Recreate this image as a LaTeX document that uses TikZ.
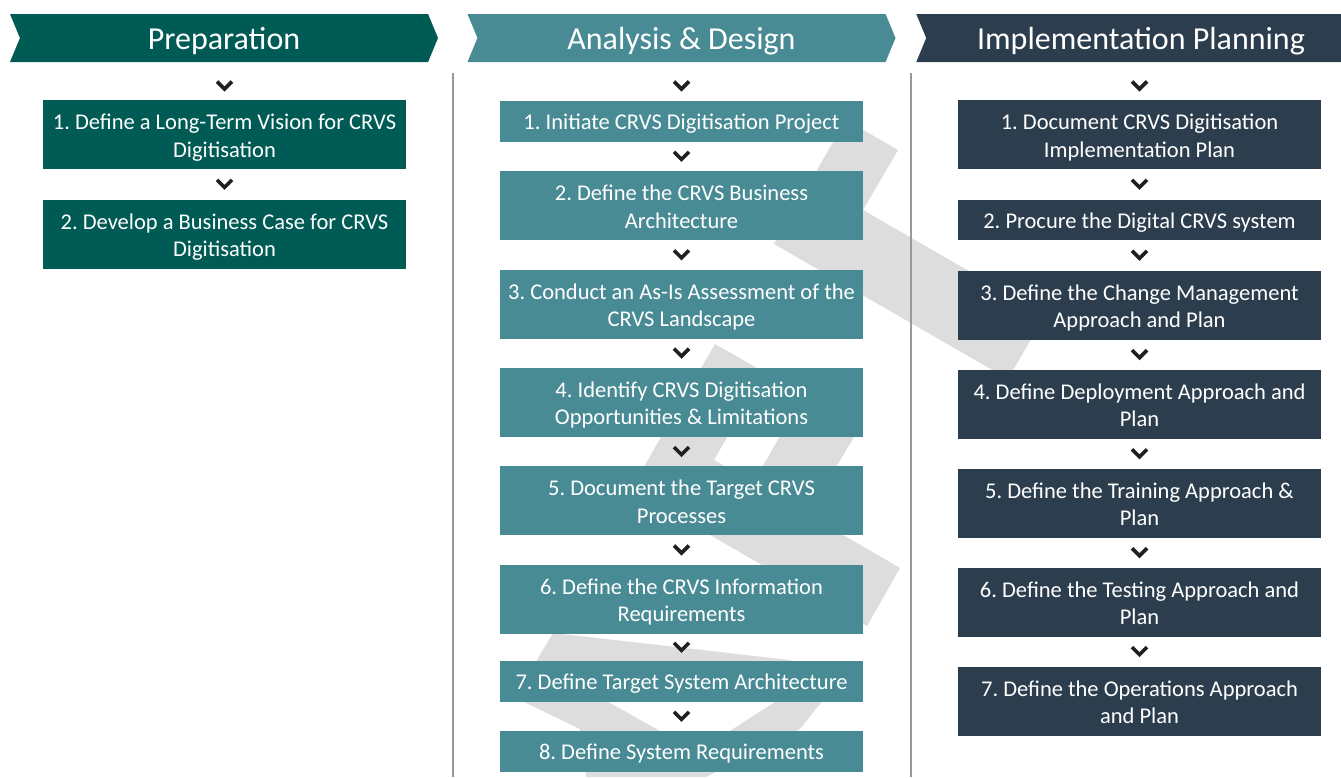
\documentclass[tikz,border=0pt]{standalone}
\usepackage{fontspec}
\setmainfont{Carlito}
\usetikzlibrary{positioning}
\usetikzlibrary{calc}
\usetikzlibrary{shapes.symbols}
\definecolor{prepgreen}{RGB}{0,91,85}
\definecolor{designteal}{RGB}{73,139,148}
\definecolor{planslate}{RGB}{44,62,78}
\definecolor{stripegray}{RGB}{221,221,221}
\definecolor{arrowblack}{RGB}{35,31,32}
\tikzset{
	phase/.style={signal, signal to=east, signal from=west, signal pointer angle=135, draw=none, minimum height=48pt, minimum width=428pt, inner sep=0pt, text=white, text height=23pt, text depth=0pt, font=\fontsize{32}{36}\selectfont},
	stepbox/.style={rectangle, draw=none, minimum width=363pt, minimum height=69pt, inner sep=0pt, align=center, text=white, text height=45pt, text depth=0pt, font=\fontsize{22.5}{27.5}\selectfont},
	short/.style={minimum height=40.5pt, text height=17pt},
	pics/chev/.style={code={\draw[arrowblack, line width=3.6pt, miter limit=10] (-7.5,-4.5) -- (0,3) -- (7.5,-4.5);}},
}

\begin{document}
\frenchspacing
\begin{tikzpicture}[x=1pt, y=-1pt]
	\useasboundingbox (0,0) rectangle (1341,777);
	\clip (0,0) rectangle (1341,777);
	\fill[white] (0,0) rectangle (1341,777);

	% grey stripes behind the middle column
	\fill[stripegray] (846,120) -- (898,150) -- (863,210) -- (1045,315) -- (1008,379) -- (774,244) -- cycle;
	\fill[stripegray] (715,344) -- (764,372) -- (714,460) -- (900,568) -- (867,626) -- (631,489) -- cycle;
	\fill[stripegray] (802,398) -- (858,430) -- (808,515) -- (753,483) -- cycle;
	\fill[stripegray, even odd rule] (553,633) -- (790,660) -- (845,690) -- (823,700) -- (800,729) -- (706,777) -- (586,777) -- (580,729) -- (520,700) -- (515,697) -- cycle
		(596,695) -- (786,695) -- (697,752) -- cycle;

	% dividers
	\draw[gray!80, line width=1.6pt] (453,73) -- (453,777);
	\draw[gray!80, line width=1.6pt] (911,73) -- (911,777);

	% phase headers
	\node[phase, fill=prepgreen] (prep) at (224,38) {Preparation};
	\node[phase, fill=designteal] (design) at (681.5,38) {Analysis \& Design};
	\node[phase, fill=planslate, minimum width=440pt, anchor=west] (plan) at (926,38) {};
	\node[text=white, text height=23pt, text depth=0pt, font=\fontsize{32}{36}\selectfont] (plantitle) at (1141,38) {Implementation Planning};

	%%%% Preparation
	\node[stepbox, fill=prepgreen, anchor=north] (p1) at (224.5,100) {1. Define a Long-Term Vision for CRVS\\Digitisation};
	\node[stepbox, fill=prepgreen, below=30pt of p1] (p2) {2. Develop a Business Case for CRVS\\Digitisation};

	\pic at ($(p1.north)+(0,-14)$) {chev};
	\pic at ($(p1.south)!0.5!(p2.north)$) {chev};

	%%%% Analysis & Design
	\node[stepbox, short, fill=designteal, anchor=north] (a1) at (681.5,101) {1. Initiate CRVS Digitisation Project};
	\node[stepbox, fill=designteal, below=29pt of a1] (a2) {2. Define the CRVS Business\\Architecture};
	\node[stepbox, fill=designteal, below=29pt of a2] (a3) {3. Conduct an As-Is Assessment of the\\CRVS Landscape};
	\node[stepbox, fill=designteal, below=29pt of a3] (a4) {4. Identify CRVS Digitisation\\Opportunities \& Limitations};
	\node[stepbox, fill=designteal, below=29pt of a4] (a5) {5. Document the Target CRVS\\Processes};
	\node[stepbox, fill=designteal, below=29pt of a5] (a6) {6. Define the CRVS Information\\Requirements};
	\node[stepbox, short, fill=designteal, below=27pt of a6] (a7) {7. Define Target System Architecture};
	\node[stepbox, short, fill=designteal, below=29pt of a7] (a8) {8. Define System Requirements};

	\pic at ($(a1.north)+(0,-15)$) {chev};
	\foreach \i/\j in {1/2,2/3,3/4,4/5,5/6,6/7,7/8}
		\pic at ($(a\i.south)!0.5!(a\j.north)$) {chev};

	%%%% Implementation Planning
	\node[stepbox, fill=planslate, anchor=north] (m1) at (1139.5,100) {1. Document CRVS Digitisation\\Implementation Plan};
	\node[stepbox, short, fill=planslate, below=30pt of m1] (m2) {2. Procure the Digital CRVS system};
	\node[stepbox, fill=planslate, below=30pt of m2] (m3) {3. Define the Change Management\\Approach and Plan};
	\node[stepbox, fill=planslate, below=30pt of m3] (m4) {4. Define Deployment Approach and\\Plan};
	\node[stepbox, fill=planslate, below=29.5pt of m4] (m5) {5. Define the Training Approach \&\\Plan};
	\node[stepbox, fill=planslate, below=29.5pt of m5] (m6) {6. Define the Testing Approach and\\Plan};
	\node[stepbox, fill=planslate, below=29.5pt of m6] (m7) {7. Define the Operations Approach\\and Plan};

	\pic at ($(m1.north)+(0,-14)$) {chev};
	\foreach \i/\j in {1/2,2/3,3/4,4/5,5/6,6/7}
		\pic at ($(m\i.south)!0.5!(m\j.north)$) {chev};
\end{tikzpicture}
\end{document}
